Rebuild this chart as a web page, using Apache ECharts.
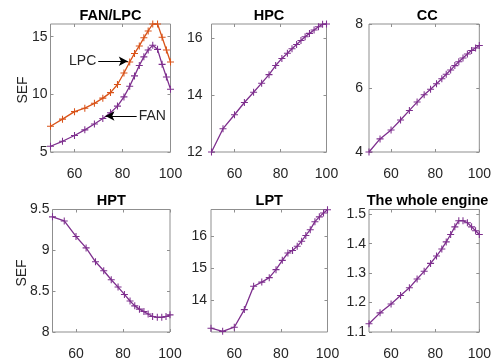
<!DOCTYPE html>
<html>
<head>
<meta charset="utf-8">
<script src="https://cdn.jsdelivr.net/npm/echarts@6/dist/echarts.min.js"></script>
<style>
  html, body { margin: 0; padding: 0; background: #ffffff; }
  #chart { width: 494px; height: 361px; }
</style>
</head>
<body>
<div id="chart"></div>
<script>
// Operating points (% relative speed)
const speedPct = [50, 55, 60, 64.3, 68.3, 71.8, 75, 77.9, 80.6, 83, 85, 87, 88.9, 90.7, 92.6, 94.6, 96.5, 98.3, 100];

// SEF per component
const sefFan = [5.5, 5.93, 6.43, 6.92, 7.43, 7.9, 8.4, 8.98, 9.78, 10.7, 11.6, 12.5, 13.25, 13.85, 14.25, 13.9, 12.6, 11.5, 10.45];
const sefLpc = [7.23, 7.85, 8.5, 8.8, 9.22, 9.67, 10.15, 10.85, 11.85, 12.8, 13.55, 14.2, 14.9, 15.5, 16.1, 16.1, 14.95, 13.85, 12.8];
const sefHpc = [12.0, 12.82, 13.31, 13.74, 14.1, 14.42, 14.72, 15.04, 15.29, 15.47, 15.63, 15.78, 15.92, 16.05, 16.17, 16.29, 16.4, 16.49, 16.5];
const sefCc = [4.0, 4.41, 4.69, 5.0, 5.3, 5.56, 5.79, 5.96, 6.13, 6.29, 6.43, 6.56, 6.7, 6.82, 6.94, 7.06, 7.17, 7.25, 7.33];
const sefHpt = [9.41, 9.36, 9.17, 9.03, 8.86, 8.75, 8.64, 8.55, 8.46, 8.38, 8.32, 8.28, 8.25, 8.22, 8.19, 8.18, 8.18, 8.19, 8.21];
const sefLpt = [13.12, 13.02, 13.15, 13.7, 14.43, 14.56, 14.7, 14.95, 15.24, 15.47, 15.55, 15.68, 15.84, 16.02, 16.2, 16.45, 16.6, 16.72, 16.82];
const sefEngine = [1.128, 1.165, 1.195, 1.224, 1.25, 1.28, 1.306, 1.333, 1.358, 1.382, 1.406, 1.431, 1.457, 1.478, 1.478, 1.471, 1.457, 1.444, 1.431];

// Panel titles and axis ticks
const panelTitles = ['FAN/LPC', 'HPC', 'CC', 'HPT', 'LPT', 'The whole engine'];
const xTicks = [60, 80, 100];
const yRanges = [[5, 16.1], [12, 16.5], [4, 8], [8, 9.5], [13.0, 16.83], [1.1, 1.516]];
const yTicks = [[5, 10, 15], [12, 14, 16], [4, 6, 8], [8, 8.5, 9, 9.5], [14, 15, 16], [1.1, 1.2, 1.3, 1.4, 1.5]];

// Annotation arrows on the FAN/LPC panel: [from, to] in data units
const lpcArrow = [[69.9, 12.87], [82.2, 12.87]];
const fanArrow = [[85.9, 8.12], [72.9, 8.12]];

const PURPLE = '#7E2F8E';
const ORANGE = '#D95319';
const BOX = '#8f8f8f';
const TEXT = '#262626';
const FONT = "'Liberation Sans', Arial, sans-serif";
const FS = 14;

const layout = [
  { left: 50.5, top: 24, width: 120, height: 128, labelGap: 3 },
  { left: 211.5, top: 24, width: 115, height: 128, labelGap: 9 },
  { left: 369, top: 24, width: 116.5, height: 128, labelGap: 6 },
  { left: 52.5, top: 209.5, width: 117.5, height: 127, labelGap: 3 },
  { left: 211, top: 209.5, width: 116.5, height: 127, labelGap: 4 },
  { left: 369, top: 209.5, width: 117, height: 127, labelGap: 3 }
];

// '+' marker drawn as a filled cross
const PLUS = 'path://M-0.9,-6H0.9V-0.9H6V0.9H0.9V6H-0.9V0.9H-6V-0.9H-0.9Z';

const grid = [], xAxis = [], yAxis = [], title = [];
layout.forEach((g, i) => {
  grid.push({ left: g.left, top: g.top, width: g.width, height: g.height,
    show: true, borderColor: BOX, borderWidth: 1, backgroundColor: '#fff' });
  const tickStyle = { show: true, inside: true, length: 3, lineStyle: { color: BOX, width: 1 } };
  ['bottom', 'top'].forEach(pos => {
    xAxis.push({
      gridIndex: i, type: 'value', position: pos, min: 50, max: 100,
      axisLine: { show: false }, splitLine: { show: false },
      axisTick: Object.assign({ customValues: xTicks }, tickStyle),
      axisLabel: pos === 'bottom'
        ? { show: true, customValues: xTicks, margin: 15, color: TEXT, fontSize: FS, fontFamily: FONT }
        : { show: false }
    });
  });
  ['left', 'right'].forEach(pos => {
    yAxis.push({
      gridIndex: i, type: 'value', position: pos, min: yRanges[i][0], max: yRanges[i][1],
      axisLine: { show: false }, splitLine: { show: false },
      axisTick: Object.assign({ customValues: yTicks[i] }, tickStyle),
      axisLabel: pos === 'left'
        ? { show: true, customValues: yTicks[i], margin: g.labelGap, color: TEXT, fontSize: FS, fontFamily: FONT }
        : { show: false }
    });
  });
  title.push({
    text: panelTitles[i], left: g.left + g.width / 2, top: g.top - 16, textAlign: 'center', padding: 0,
    textStyle: { fontSize: 14.5, fontWeight: 'bold', color: '#000', fontFamily: FONT }
  });
});

const pairs = ys => speedPct.map((x, k) => [x, ys[k]]);

function lineSeries(panel, ys, color, extra) {
  return Object.assign({
    type: 'line', xAxisIndex: panel * 2, yAxisIndex: panel * 2, data: pairs(ys),
    symbol: PLUS, symbolSize: 7, showSymbol: true,
    lineStyle: { color: color, width: 1.3 }, itemStyle: { color: color },
    silent: true, animation: false
  }, extra || {});
}

function arrow(seg, text, labelPos) {
  return [
    { coord: seg[0], label: { show: true, position: labelPos, formatter: text,
        color: TEXT, fontSize: FS, fontFamily: FONT, distance: 2 } },
    { coord: seg[1] }
  ];
}

const arrowStyle = {
  silent: true, symbol: ['none', 'arrow'], symbolSize: [7, 9], animation: false,
  lineStyle: { color: '#000', width: 1, type: 'solid' },
  label: { show: false }
};

const series = [
  lineSeries(0, sefLpc, ORANGE, { markLine: Object.assign({ data: [arrow(lpcArrow, 'LPC', 'start')] }, arrowStyle) }),
  lineSeries(0, sefFan, PURPLE, { markLine: Object.assign({ data: [arrow(fanArrow, 'FAN', 'start')] }, arrowStyle) }),
  lineSeries(1, sefHpc, PURPLE),
  lineSeries(2, sefCc, PURPLE),
  lineSeries(3, sefHpt, PURPLE),
  lineSeries(4, sefLpt, PURPLE),
  lineSeries(5, sefEngine, PURPLE)
];

const chart = echarts.init(document.getElementById('chart'), null, { renderer: 'canvas' });
chart.setOption({
  backgroundColor: '#ffffff',
  animation: false,
  title: title,
  grid: grid,
  xAxis: xAxis,
  yAxis: yAxis,
  series: series,
  graphic: [
    { type: 'text', x: 23.5, y: 90, rotation: Math.PI / 2,
      style: { text: 'SEF', fill: TEXT, fontSize: FS, fontFamily: FONT, align: 'center', verticalAlign: 'middle' } },
    { type: 'text', x: 22, y: 273, rotation: Math.PI / 2,
      style: { text: 'SEF', fill: TEXT, fontSize: FS, fontFamily: FONT, align: 'center', verticalAlign: 'middle' } }
  ]
});
</script>
</body>
</html>
